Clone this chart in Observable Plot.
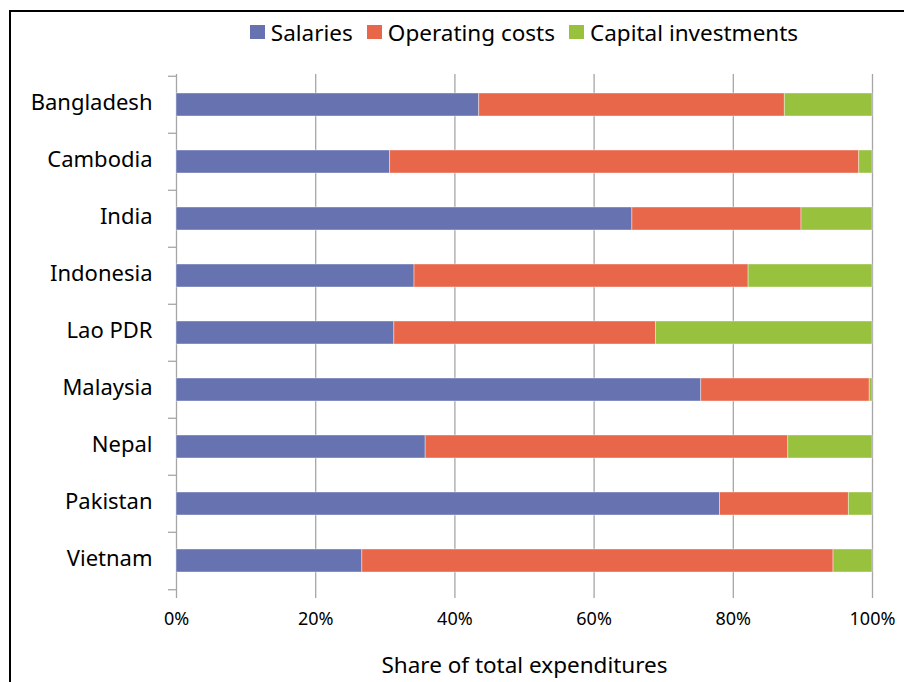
<!DOCTYPE html>
<html>
<head>
<meta charset="utf-8">
<script src="https://cdn.jsdelivr.net/npm/d3@7"></script>
<script src="https://cdn.jsdelivr.net/npm/@observablehq/plot@0.6"></script>
<style>
  html, body { margin: 0; padding: 0; width: 904px; height: 682px; overflow: hidden; background: #fff; }
  body { position: relative; font-family: "Noto Sans", sans-serif; }
  #frame { position: absolute; left: 9px; top: 10px; width: 2000px; height: 2000px;
           border-left: 2px solid #000; border-top: 2px solid #000; pointer-events: none; }
  #legend { position: absolute; left: 176px; width: 696px; top: 17px; height: 30px;
            display: flex; justify-content: center; align-items: center; gap: 14px;
            font-size: 22.5px; color: #000; white-space: nowrap; }
  .item { display: flex; align-items: center; gap: 6px; }
  .sw { width: 15px; height: 14px; display: inline-block; }
  #chart { position: absolute; left: 0; top: 50px; }
</style>
</head>
<body>
<div id="frame"></div>
<div id="legend"></div>
<div id="chart"></div>
<script>
const countries = ["Bangladesh", "Cambodia", "India", "Indonesia", "Lao PDR", "Malaysia", "Nepal", "Pakistan", "Vietnam"];
const seriesNames = ["Salaries", "Operating costs", "Capital investments"];
const seriesColors = ["#6673b0", "#e8664a", "#98c13d"];
const salaries  = [43.5, 30.7, 65.5, 34.2, 31.3, 75.4, 35.8, 78.1, 26.7];
const operating = [43.9, 67.4, 24.3, 48.0, 37.6, 24.2, 52.1, 18.5, 67.7];
const capital   = [12.6,  1.9, 10.2, 17.8, 31.1,  0.4, 12.1,  3.4,  5.6];
const xTicks = [0, 20, 40, 60, 80, 100];

const seriesValues = [salaries, operating, capital];
const data = [];
countries.forEach((c, i) => {
  seriesNames.forEach((s, j) => data.push({country: c, series: s, value: seriesValues[j][i]}));
});

// legend
const legend = document.getElementById("legend");
seriesNames.forEach((s, j) => {
  const it = document.createElement("span");
  it.className = "item";
  const sw = document.createElement("span");
  sw.className = "sw";
  sw.style.background = seriesColors[j];
  const t = document.createElement("span");
  t.textContent = s;
  it.appendChild(sw); it.appendChild(t);
  legend.appendChild(it);
});

const W = 904, H = 632, mt = 24, mb = 91, ml = 176, mr = 32;
const step = (H - mt - mb) / countries.length;
const gray = "#a6a6a6";

const chart = Plot.plot({
  width: W, height: H,
  marginTop: mt, marginBottom: mb, marginLeft: ml, marginRight: mr,
  style: {background: "transparent", fontFamily: "Noto Sans, sans-serif", color: "#000"},
  x: {domain: [0, 100], axis: null},
  y: {domain: countries, paddingInner: 0.6, paddingOuter: 0.3, axis: null},
  color: {domain: seriesNames, range: seriesColors},
  marks: [
    Plot.gridX(xTicks, {stroke: gray, strokeOpacity: 1, strokeWidth: 1.3}),
    Plot.axisX({ticks: xTicks, tickSize: 7, tickPadding: 14, stroke: gray, strokeWidth: 1.3,
                tickFormat: d => d + "%", fontSize: 18, fill: "#000", label: null}),
    Plot.axisY({ticks: countries, tickSize: 8, text: null, dy: -step / 2, stroke: gray, strokeWidth: 1.3, label: null}),
    Plot.axisY({ticks: countries.slice(-1), tickSize: 8, text: null, dy: step / 2, stroke: gray, strokeWidth: 1.3, label: null}),
    Plot.axisY({ticks: countries, tickSize: 0, tickPadding: 24, fontSize: 22, fill: "#000", label: null, dy: -2}),
    Plot.barX(data, Plot.stackX({y: "country", x: "value", fill: "series", order: seriesNames,
                                 stroke: "#fff", strokeOpacity: 0.5, strokeWidth: 0.8})),
    Plot.text(["Share of total expenditures"], {frameAnchor: "bottom", dy: 74, fontSize: 22.5, fill: "#000", lineAnchor: "middle"})
  ]
});
document.getElementById("chart").appendChild(chart);
</script>
</body>
</html>
